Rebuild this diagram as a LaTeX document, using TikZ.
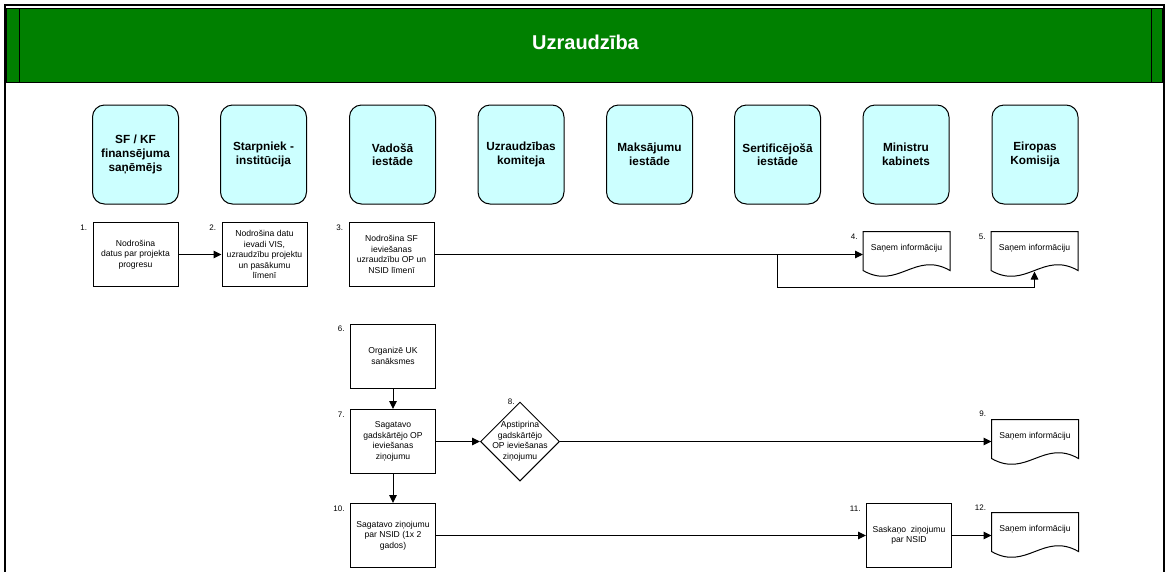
\documentclass[tikz,border=0pt]{standalone}
\usepackage{fontspec}
\setmainfont{Liberation Sans}
\usetikzlibrary{shapes.geometric, arrows.meta}
\definecolor{lanecyan}{RGB}{204,255,255}
\definecolor{headgreen}{RGB}{0,128,0}

\begin{document}
\begin{tikzpicture}[x=1pt, y=-1pt, line width=1pt,
  txt/.style = {font=\fontsize{8.6}{10.5}\selectfont, align=center},
  lane/.style = {draw, fill=lanecyan, rounded corners=12pt, minimum width=86pt, minimum height=99pt, inner sep=0pt, align=center, font=\fontsize{11.8}{13.7}\selectfont\bfseries},
  box/.style = {draw, fill=white, txt, minimum width=85pt, minimum height=64pt, inner sep=0pt},
  doc/.style = {txt, minimum width=86pt, minimum height=32pt, inner sep=0pt},
  num/.style = {font=\fontsize{8}{9}\selectfont, inner sep=0pt, anchor=north east, xshift=-5pt, yshift=-2pt},
  arr/.style = {-{Triangle[length=8pt, width=7.5pt]}}]
  \clip (0,0) rectangle (1167,571);
  \draw[line width=2.5pt] (5,5) rectangle (1164,600);
  \draw[fill=headgreen] (6.5,8) rectangle (1162.5,82);
  \draw (19,8) -- (19,82);
  \draw (1151,8) -- (1151,82);
  \node[font=\fontsize{20}{24}\selectfont\bfseries, text=white, anchor=base] (title) at (585.5,49) {Uzraudzība};

  \node[lane] (a1) at (135.5,154.5) {SF / KF\\finansējuma\\saņēmējs};
  \node[lane] (a2) at (263.5,154.5) {Starpniek -\\institūcija};
  \node[lane] (a3) at (392.5,154.5) {Vadošā\\iestāde};
  \node[lane] (a4) at (521,154.5) {Uzraudzības\\komiteja};
  \node[lane] (a5) at (649.5,154.5) {Maksājumu\\iestāde};
  \node[lane] (a6) at (777.5,154.5) {Sertificējošā\\iestāde};
  \node[lane] (a7) at (906,154.5) {Ministru\\kabinets};
  \node[lane] (a8) at (1035,154.5) {Eiropas\\Komisija};

  \node[box, label={[num]north west:1.}] (1) at (135.5,254.5) {Nodrošina\\datus par projekta\\progresu};
  \node[box, label={[num]north west:2.}] (2) at (264.5,254.5) {Nodrošina datu\\ievadi VIS,\\uzraudzību projektu\\un pasākumu\\līmenī};
  \node[box, label={[num]north west:3.}] (3) at (391.5,254.5) {Nodrošina SF\\ieviešanas\\uzraudzību OP un\\NSID līmenī};
  \node[doc, label={[num]north west:4.}] (4) at (906.5,248) {Saņem informāciju};
  \node[doc, label={[num]north west:5.}] (5) at (1034.5,248) {Saņem informāciju};
  \node[box, label={[num]north west:6.}] (6) at (393,356) {Organizē UK\\sanāksmes};
  \node[box, label={[num]north west:7.}] (7) at (393,441.5) {Sagatavo\\gadskārtējo OP\\ieviešanas\\ziņojumu};
  \node[diamond, draw, fill=white, minimum width=79pt, minimum height=79pt, inner sep=0pt,
    label={[txt]center:{Apstiprina\\gadskārtējo\\OP ieviešanas\\ziņojumu}},
    label={[num, anchor=east, yshift=2pt]north:8.}] (8) at (520,441.5) {};
  \node[doc, label={[num, anchor=south east, yshift=4pt]north west:9.}] (9) at (1035,436) {Saņem informāciju};
  \node[box, label={[num]north west:10.}] (10) at (393,535.5) {Sagatavo ziņojumu\\par NSID (1x 2\\gados)};
  \node[box, label={[num]north west:11.}] (11) at (909,535.5) {Saskaņo\ \ ziņojumu\\par NSID};
  \node[doc, label={[num, anchor=south east, yshift=4pt]north west:12.}] (12) at (1035,529) {Saņem informāciju};

  \draw (4.north west) -- (4.north east) -- ([yshift=-6pt]4.south east) .. controls +(-35,-20) and +(35,20) .. ([yshift=-6pt]4.south west) -- cycle;
  \draw (5.north west) -- (5.north east) -- ([yshift=-6pt]5.south east) .. controls +(-35,-20) and +(35,20) .. ([yshift=-6pt]5.south west) -- cycle;
  \draw (9.north west) -- (9.north east) -- ([yshift=-6pt]9.south east) .. controls +(-35,-20) and +(35,20) .. ([yshift=-6pt]9.south west) -- cycle;
  \draw (12.north west) -- (12.north east) -- ([yshift=-6pt]12.south east) .. controls +(-35,-20) and +(35,20) .. ([yshift=-6pt]12.south west) -- cycle;

  \coordinate (j) at (777,287);
  \draw[arr] (1) -- (2);
  \draw[arr] (3) -- (3 -| 4.west);
  \draw[arr] (3 -| j) -- (j) -| ([yshift=-7pt]5.south);
  \draw[arr] (6) -- (7);
  \draw[arr] (7) -- (8);
  \draw[arr] (8) -- (8 -| 9.west);
  \draw[arr] (7) -- (10);
  \draw[arr] (10) -- (11);
  \draw[arr] (11) -- (11 -| 12.west);
\end{tikzpicture}
\end{document}
